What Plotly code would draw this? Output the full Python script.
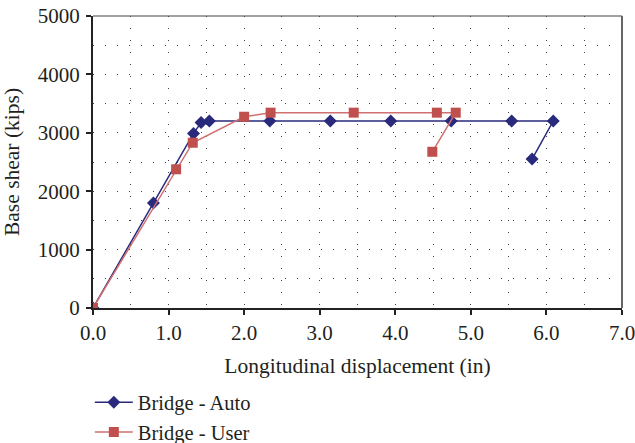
import plotly.graph_objects as go

auto_x = [0.0, 0.80, 1.33, 1.43, 1.54, 2.34, 3.14, 3.94, 4.74, 5.54, 6.09, 5.81]
auto_y = [0, 1800, 2990, 3175, 3200, 3200, 3200, 3200, 3200, 3200, 3200, 2550]
user_x = [0.0, 1.10, 1.32, 2.00, 2.35, 3.45, 4.55, 4.80, 4.49]
user_y = [0, 2375, 2830, 3275, 3345, 3345, 3345, 3345, 2675]

x_ticks = [0, 1, 2, 3, 4, 5, 6, 7]
x_labels = ["0.0", "1.0", "2.0", "3.0", "4.0", "5.0", "6.0", "7.0"]
y_ticks = [0, 1000, 2000, 3000, 4000, 5000]

FONT = "Liberation Serif"
TXT = "#231f20"

fig = go.Figure()
fig.add_trace(go.Scatter(
    x=auto_x, y=auto_y, name="Bridge - Auto", mode="lines+markers",
    line=dict(color="#2a2a7c", width=1.5),
    marker=dict(symbol="diamond", size=10, color="#2a2a7c"),
))
fig.add_trace(go.Scatter(
    x=user_x, y=user_y, name="Bridge - User", mode="lines+markers",
    line=dict(color="#d07070", width=1.5),
    marker=dict(symbol="square", size=10, color="#c0504d"),
))

grid_common = dict(showgrid=True, gridcolor="#444", gridwidth=1, griddash="1px,11px",
                   zeroline=False, automargin=False, ticklabeloverflow="allow")

fig.update_xaxes(
    range=[0, 7], tickvals=x_ticks, ticktext=x_labels,
    minor=dict(dtick=0.5, showgrid=True, gridcolor="#444", gridwidth=1, griddash="1px,11px"),
    showline=True, linecolor="#222", linewidth=2,
    ticks="outside", ticklen=5, tickcolor="#222", tickwidth=2,
    title=dict(text="Longitudinal displacement (in)", font=dict(family=FONT, size=21.5, color=TXT), standoff=14),
    tickfont=dict(family=FONT, size=21, color=TXT),
    **grid_common,
)
fig.update_yaxes(
    range=[0, 5000], tickvals=y_ticks,
    minor=dict(dtick=500, showgrid=True, gridcolor="#444", gridwidth=1, griddash="1px,11px"),
    showline=True, linecolor="#222", linewidth=2,
    ticks="outside", ticklen=5, tickcolor="#222", tickwidth=2, ticklabelstandoff=2,
    title=dict(text="Base shear (kips)", font=dict(family=FONT, size=21.5, color=TXT), standoff=12),
    tickfont=dict(family=FONT, size=21, color=TXT),
    **grid_common,
)

# top and right frame lines
fig.add_shape(type="line", xref="paper", yref="paper", x0=0, x1=1, y0=1, y1=1,
              line=dict(color="#444", width=1))
fig.add_shape(type="line", xref="paper", yref="paper", x0=1, x1=1, y0=0, y1=1,
              line=dict(color="#666", width=2))

fig.update_layout(
    width=635, height=443,
    margin=dict(l=93, r=13, t=16, b=135, autoexpand=False),
    plot_bgcolor="white", paper_bgcolor="white",
    font=dict(family=FONT, color=TXT),
    legend=dict(x=-0.006, y=-0.255, xanchor="left", yanchor="top",
                font=dict(family=FONT, size=20.5, color=TXT),
                tracegroupgap=0, itemwidth=38, bgcolor="rgba(0,0,0,0)"),
    showlegend=True,
)

fig.write_html("out.html")
